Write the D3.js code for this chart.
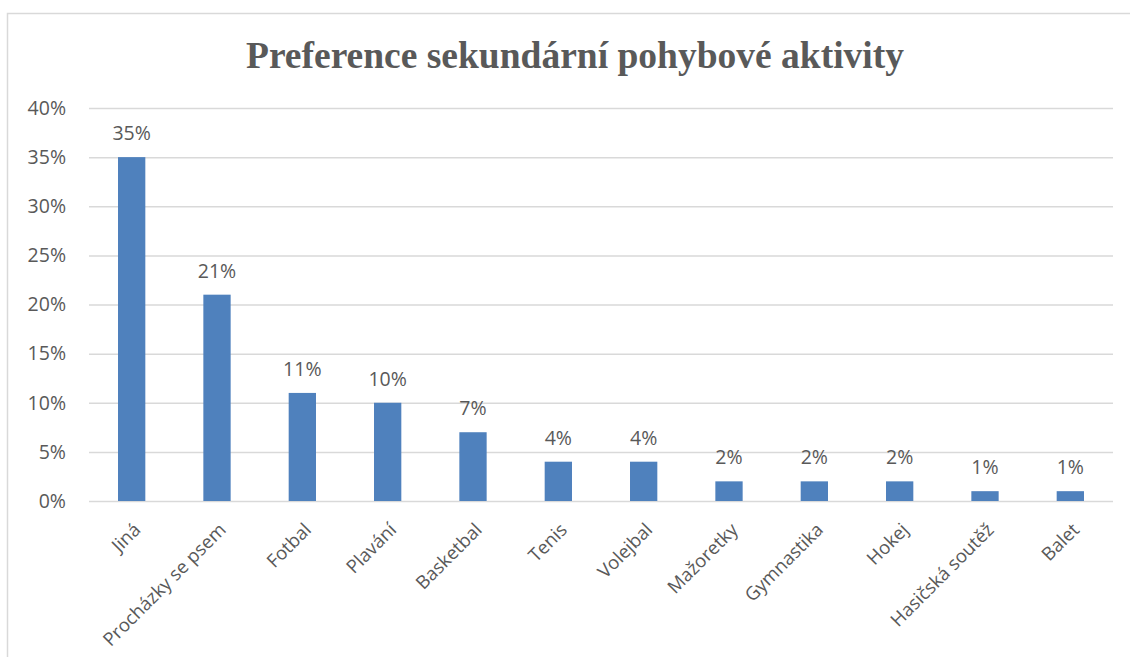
<!DOCTYPE html>
<html>
<head>
<meta charset="utf-8">
<script src="https://cdn.jsdelivr.net/npm/d3@7"></script>
<style>
  body { margin: 0; background: #fff; }
  text { fill: #595959; }
</style>
</head>
<body>
<script>
// data
var kategorie = ["Jiná", "Procházky se psem", "Fotbal", "Plavání", "Basketbal", "Tenis",
  "Volejbal", "Mažoretky", "Gymnastika", "Hokej", "Hasičská soutěž", "Balet"];
var hodnoty = [0.35, 0.21, 0.11, 0.10, 0.07, 0.04, 0.04, 0.02, 0.02, 0.02, 0.01, 0.01];
var yTicks = [0, 0.05, 0.10, 0.15, 0.20, 0.25, 0.30, 0.35, 0.40];
var titulek = "Preference sekundární pohybové aktivity";

var W = 1130, H = 657;
var margin = {top: 108, right: 17, bottom: 156, left: 89},
  width = W - margin.left - margin.right,
  height = H - margin.top - margin.bottom;

var pismo = "'Open Sans', 'Noto Sans', sans-serif";

var svg = d3.select("body").append("svg")
  .attr("width", W)
  .attr("height", H);

// chart frame
svg.append("rect")
  .attr("x", 7.5).attr("y", 13.5)
  .attr("width", W + 10).attr("height", H + 10)
  .attr("fill", "none")
  .attr("stroke", "#d9d9d9")
  .attr("stroke-width", 1.5);

svg.append("text")
  .attr("x", 575)
  .attr("y", 68)
  .attr("text-anchor", "middle")
  .style("font-family", "'Liberation Serif', 'Times New Roman', serif")
  .style("font-weight", "bold")
  .style("font-size", "37.5px")
  .text(titulek);

var g = svg.append("g")
  .attr("transform", "translate(" + margin.left + "," + margin.top + ")");

var x = d3.scaleBand().domain(kategorie).range([0, width]).paddingInner(0.68).paddingOuter(0.34);
var y = d3.scaleLinear().domain([0, 0.4]).range([height, 0]);

// gridlines + y labels
var yAxis = g.append("g")
  .call(d3.axisLeft(y).tickValues(yTicks).tickSize(-width).tickPadding(23)
    .tickFormat(d3.format(".0%")));
yAxis.select(".domain").remove();
yAxis.selectAll("line").attr("stroke", "#d9d9d9").attr("stroke-width", 1.5);
yAxis.selectAll("text")
  .style("font-family", pismo)
  .style("font-size", "19.5px")
  .attr("fill", "#595959");

// bars
g.selectAll(".bar")
  .data(hodnoty)
  .enter().append("rect")
  .attr("class", "bar")
  .attr("x", function(d, i) { return x(kategorie[i]); })
  .attr("y", function(d) { return y(d); })
  .attr("width", x.bandwidth())
  .attr("height", function(d) { return height - y(d); })
  .attr("fill", "#4f81bd");

// data labels
g.selectAll(".lbl")
  .data(hodnoty)
  .enter().append("text")
  .attr("class", "lbl")
  .attr("x", function(d, i) { return x(kategorie[i]) + x.bandwidth() / 2; })
  .attr("y", function(d) { return y(d) - 17; })
  .attr("text-anchor", "middle")
  .style("font-family", pismo)
  .style("font-size", "19.5px")
  .text(function(d) { return d3.format(".0%")(d); });

// x labels, rotated
g.selectAll(".xl")
  .data(kategorie)
  .enter().append("text")
  .attr("class", "xl")
  .attr("text-anchor", "end")
  .attr("transform", function(d) {
    var cx = x(d) + x.bandwidth() / 2 + 10;
    return "translate(" + cx + "," + (height + 30) + ") rotate(-45)";
  })
  .style("font-family", pismo)
  .style("font-size", "18.5px")
  .text(function(d) { return d; });
</script>
</body>
</html>
